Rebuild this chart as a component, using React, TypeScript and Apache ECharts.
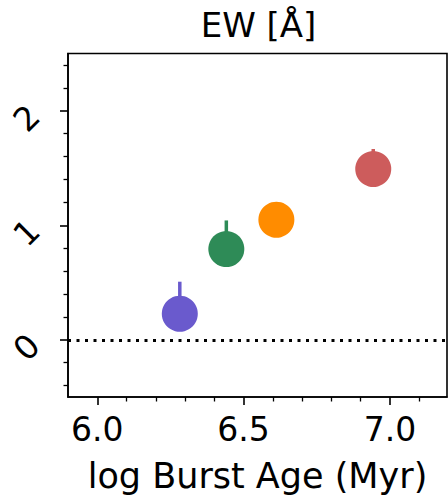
import React, { useEffect, useRef } from "react";
import * as echarts from "echarts";

// Data
const burstAge = [6.282, 6.441, 6.612, 6.943];
const ewValues = [0.227, 0.792, 1.048, 1.491];
const ewErrUp = [0.28, 0.25, 0.12, 0.175];
const pointColors = ["#6A5ACD", "#2E8B57", "#FF8C00", "#CD5C5C"];
const yMajorTicks = [0, 1, 2];
const yMinorTicks = [-0.4, -0.2, 0.2, 0.4, 0.6, 0.8, 1.2, 1.4, 1.6, 1.8, 2.2, 2.4];
const xMajorTicks = [6.0, 6.5, 7.0];
const xMinorTicks = [6.1, 6.2, 6.3, 6.4, 6.6, 6.7, 6.8, 6.9, 7.1];
const titleText = "EW [Å]";
const xName = "log Burst Age (Myr)";

const FONT = "DejaVu Sans";

export default function App() {
  const ref = useRef<HTMLDivElement>(null);
  useEffect(() => {
    if (!ref.current) return;
    const chart = echarts.init(ref.current, null, { renderer: "svg" });
    const xMin = 5.9, xMax = 7.195, yMin = -0.5, yMax = 2.5;
    const gridLeft = 68, gridTop = 53.5, gridW = 379, gridH = 343.5;

    const points = burstAge.map((x, i) => ({
      value: [x, ewValues[i]],
      itemStyle: { color: pointColors[i], opacity: 1 },
    }));
    const errData = burstAge.map((x, i) => [x, ewValues[i], ewValues[i] + ewErrUp[i], i]);

    chart.setOption({
      animation: false,
      grid: {
        left: gridLeft, top: gridTop, width: gridW, height: gridH,
        show: true, borderColor: "#000", borderWidth: 1.6, backgroundColor: "transparent",
      },
      graphic: [
        {
          type: "text",
          x: gridLeft + gridW / 2 + 1,
          y: 25,
          style: {
            text: titleText,
            font: `34px "${FONT}"`,
            fill: "#000",
            textAlign: "center",
            textVerticalAlign: "middle",
          },
        },
      ],
      xAxis: [
        {
          type: "value", min: xMin, max: xMax,
          name: xName, nameLocation: "middle", nameGap: 61,
          nameTextStyle: { fontFamily: FONT, fontSize: 35, color: "#000" },
          axisLine: { show: true, onZero: false, lineStyle: { color: "#000", width: 1.6 } },
          axisTick: { show: true, customValues: xMajorTicks, length: 8, lineStyle: { color: "#000", width: 1.6 } },
          axisLabel: {
            show: true, customValues: xMajorTicks, margin: 16,
            fontFamily: FONT, fontSize: 33, color: "#000",
            formatter: (v: number) => v.toFixed(1),
          },
          splitLine: { show: false },
        },
        {
          type: "value", min: xMin, max: xMax, position: "bottom", offset: 0,
          axisLine: { show: false, onZero: false },
          axisTick: { show: true, customValues: xMinorTicks, length: 4.5, lineStyle: { color: "#000", width: 1.3 } },
          axisLabel: { show: false },
          splitLine: { show: false },
        },
      ],
      yAxis: [
        {
          type: "value", min: yMin, max: yMax,
          axisLine: { show: true, onZero: false, lineStyle: { color: "#000", width: 1.6 } },
          axisTick: { show: true, customValues: yMajorTicks, length: 8, lineStyle: { color: "#000", width: 1.6 } },
          axisLabel: {
            show: true, customValues: yMajorTicks, rotate: 45, margin: 34,
            padding: [0, 0, 8, 0],
            fontFamily: FONT, fontSize: 33, color: "#000",
          },
          splitLine: { show: false },
        },
        {
          type: "value", min: yMin, max: yMax, position: "left", offset: 0,
          axisLine: { show: false, onZero: false },
          axisTick: { show: true, customValues: yMinorTicks, length: 4.5, lineStyle: { color: "#000", width: 1.3 } },
          axisLabel: { show: false },
          splitLine: { show: false },
        },
      ],
      series: [
        {
          type: "custom",
          xAxisIndex: 0, yAxisIndex: 0,
          z: 1,
          data: errData,
          renderItem: (params: any, api: any) => {
            const x = api.value(0);
            const p0 = api.coord([x, api.value(1)]);
            const p1 = api.coord([x, api.value(2)]);
            const idx = api.value(3);
            return {
              type: "line",
              shape: { x1: p0[0], y1: p0[1], x2: p1[0], y2: p1[1] },
              style: { stroke: pointColors[idx], lineWidth: 3.5 },
            };
          },
        },
        {
          type: "scatter",
          xAxisIndex: 0, yAxisIndex: 0,
          z: 3,
          symbol: "circle",
          symbolSize: 36,
          itemStyle: { opacity: 1 },
          data: points,
          markLine: {
            silent: true,
            symbol: "none",
            label: { show: false },
            lineStyle: { color: "#000", type: [3, 5.5], width: 3 },
            data: [{ yAxis: 0 }],
          },
        },
      ],
    });
    return () => chart.dispose();
  }, []);
  return (
    <div
      ref={ref}
      style={{ position: "fixed", left: 0, top: 0, width: 448, height: 498, background: "#fff" }}
    />
  );
}
